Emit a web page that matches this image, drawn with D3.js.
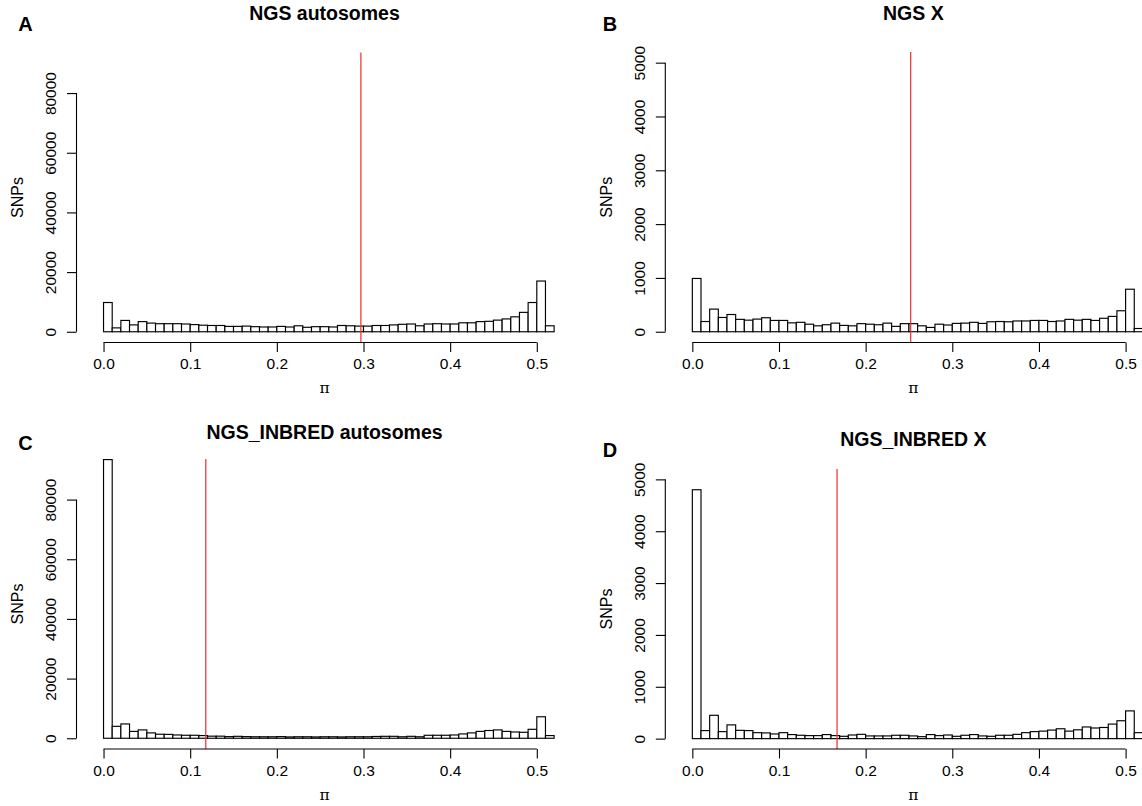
<!DOCTYPE html>
<html>
<head>
<meta charset="utf-8">
<script src="https://cdn.jsdelivr.net/npm/d3@7"></script>
<style>
  body { margin: 0; background: #fff; }
  svg { display: block; font-family: "Liberation Sans", Arial, sans-serif; }
  .tick text { font-size: 15.5px; fill: #000; }
  .tick line { stroke: #000; stroke-width: 1.1; }
</style>
</head>
<body>
<svg id="chart" width="1142" height="806"></svg>
<script>
// histogram counts, bins of width 0.01 starting at 0.00 (pi)
const countsA = [9800, 1300, 3800, 2300, 3400, 2900, 2700, 2700, 2700, 2600, 2400, 2200, 2100, 2100, 1800, 1800, 1900, 1700, 1600, 1600, 1800, 1600, 2000, 1500, 1700, 1700, 1600, 2100, 2000, 1900, 1900, 2100, 2100, 2300, 2500, 2600, 2000, 2600, 2700, 2600, 2600, 3000, 3000, 3400, 3500, 3900, 4300, 5000, 6500, 9800, 17000, 2000]
const countsB = [990, 190, 420, 265, 320, 230, 215, 235, 260, 210, 210, 165, 175, 140, 110, 130, 160, 118, 110, 150, 140, 130, 160, 100, 150, 150, 110, 80, 140, 125, 155, 160, 175, 155, 185, 190, 185, 200, 200, 210, 210, 190, 200, 230, 215, 230, 210, 250, 285, 390, 790, 60]
const countsC = [93400, 4000, 4800, 2300, 2800, 1800, 1350, 1300, 1100, 1000, 1000, 900, 700, 700, 550, 650, 550, 500, 500, 500, 550, 450, 500, 500, 450, 500, 500, 450, 500, 500, 500, 600, 650, 650, 500, 650, 500, 1000, 1000, 1000, 1100, 1450, 1800, 2300, 2600, 2800, 2300, 2100, 2000, 3000, 7200, 900]
const countsD = [4800, 155, 450, 135, 265, 160, 155, 115, 110, 90, 115, 78, 65, 58, 58, 78, 58, 45, 70, 83, 52, 52, 52, 65, 65, 52, 38, 78, 58, 70, 45, 65, 78, 52, 45, 65, 65, 83, 115, 135, 145, 165, 190, 145, 170, 225, 205, 215, 280, 345, 535, 115]

const titles = ["NGS autosomes", "NGS X", "NGS_INBRED autosomes", "NGS_INBRED X"]
const letters = ["A", "B", "C", "D"]
const meanPi = [0.297, 0.252, 0.118, 0.167]
const yMax = [90000, 5000, 90000, 5000]
const yTicksAuto = [0, 20000, 40000, 60000, 80000]
const yTicksX = [0, 1000, 2000, 3000, 4000, 5000]
const xTicks = [0, 0.1, 0.2, 0.3, 0.4, 0.5]
const binWidth = 0.01
const xLim = [-0.0312, 0.5412]

const series = [countsA, countsB, countsC, countsD]
const yTickSets = [yTicksAuto, yTicksX, yTicksAuto, yTicksX]

// plot regions (left, top, bottom) and letter baselines
const layout = [
  {left: 76.5, top: 52.5, bottom: 342.5, letterX: 18.3, letterY: 30.7},
  {left: 665.3, top: 51.9, bottom: 342.5, letterX: 602.7, letterY: 30.7},
  {left: 76.5, top: 459, bottom: 749, letterX: 18.3, letterY: 450},
  {left: 665.3, top: 469, bottom: 749, letterX: 602.7, letterY: 456.8}
]
const plotW = 496

const svg = d3.select("#chart")

series.forEach((counts, i) => {
  const L = layout[i]
  const x = d3.scaleLinear().domain(xLim).range([L.left, L.left + plotW])
  const y = d3.scaleLinear().domain([-0.04 * yMax[i], 1.04 * yMax[i]]).range([L.bottom, L.top])

  // empty bin below zero plus the real bins
  const bins = [{x0: -binWidth, n: 0}].concat(counts.map((n, k) => ({x0: k * binWidth, n: n})))

  svg.append("clipPath").attr("id", "clip" + i)
    .append("rect")
      .attr("x", L.left).attr("y", L.top - 1)
      .attr("width", plotW).attr("height", L.bottom - L.top + 1)

  const g = svg.append("g")

  g.append("g").attr("clip-path", "url(#clip" + i + ")")
    .selectAll("rect").data(bins).join("rect")
      .attr("x", d => x(d.x0))
      .attr("width", d => x(d.x0 + binWidth) - x(d.x0))
      .attr("y", d => y(d.n))
      .attr("height", d => y(0) - y(d.n))
      .attr("fill", "#fff")
      .attr("stroke", "#000")
      .attr("stroke-width", 1.15)

  // mean line
  g.append("line")
    .attr("x1", x(meanPi[i])).attr("x2", x(meanPi[i]))
    .attr("y1", L.top).attr("y2", L.bottom)
    .attr("stroke", "#f02a2a")
    .attr("stroke-width", 1.2)

  // x axis
  const xa = g.append("g")
    .attr("transform", "translate(0," + L.bottom + ")")
    .call(d3.axisBottom(x).tickValues(xTicks).tickSize(9.5).tickFormat(d3.format(".1f")))
  xa.select(".domain").remove()
  xa.selectAll("text").attr("y", 26.8).attr("dy", 0)
  xa.append("line")
    .attr("x1", x(xTicks[0])).attr("x2", x(xTicks[xTicks.length - 1]))
    .attr("stroke", "#000").attr("stroke-width", 1.1)

  // y axis
  const yt = yTickSets[i]
  const ya = g.append("g")
    .attr("transform", "translate(" + L.left + ",0)")
    .call(d3.axisLeft(y).tickValues(yt).tickSize(9.5).tickFormat(d3.format("d")))
  ya.select(".domain").remove()
  ya.selectAll("text")
    .attr("x", 0).attr("dy", 0)
    .attr("text-anchor", "middle")
    .attr("transform", "translate(-20.5,0) rotate(-90)")
  ya.append("line")
    .attr("y1", y(yt[0])).attr("y2", y(yt[yt.length - 1]))
    .attr("stroke", "#000").attr("stroke-width", 1.1)

  // axis labels
  g.append("text")
    .attr("transform", "translate(" + (L.left - 53.4) + "," + ((L.top + L.bottom) / 2) + ") rotate(-90)")
    .attr("text-anchor", "middle")
    .style("font-size", "16px")
    .text("SNPs")
  g.append("text")
    .attr("x", (L.left + L.left + plotW) / 2)
    .attr("y", L.bottom + 50.5)
    .attr("text-anchor", "middle")
    .style("font-family", "'DejaVu Serif', 'Liberation Serif', serif")
    .style("font-size", "15.5px")
    .text("π")

  // title and panel letter
  g.append("text")
    .attr("x", L.left + plotW / 2)
    .attr("y", L.letterY - 11)
    .attr("text-anchor", "middle")
    .style("font-size", "19.5px")
    .style("font-weight", "bold")
    .text(titles[i])
  g.append("text")
    .attr("x", L.letterX)
    .attr("y", L.letterY)
    .style("font-size", "20px")
    .style("font-weight", "bold")
    .text(letters[i])
})
</script>
</body>
</html>
